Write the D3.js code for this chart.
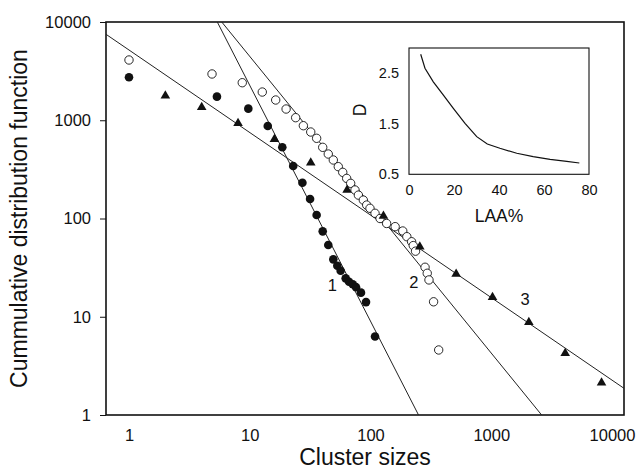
<!DOCTYPE html>
<html>
<head>
<meta charset="utf-8">
<script src="https://cdn.jsdelivr.net/npm/d3@7"></script>
<style>
  html, body { margin: 0; padding: 0; background: #fff; }
  svg { display: block; font-family: "Liberation Sans", Arial, sans-serif; }
</style>
</head>
<body>
<div id="chart"></div>
<script>
// ── Data ──
// series 1: filled circles
const size1 = [1, 5.35, 9.73, 14.1, 18.6, 22.9, 27.3, 31.6, 35.8, 40.2, 44.7, 49.2, 53.1, 56.6, 62.3, 66.4, 71.3, 75.9, 83.4, 91.8, 109];
const cdf1  = [2735, 1738, 1312, 874, 531, 342, 231, 158, 108.6, 74, 53.7, 38.4, 33.1, 29.4, 24.6, 22.7, 21.4, 20, 17.6, 14.1, 6.3];

// series 2: open circles
const size2 = [1, 4.87, 8.67, 12.7, 16.4, 20, 24, 27.8, 32, 35.8, 40.2, 44.7, 49.2, 54.1, 58.9, 63.5, 68.5, 74.4, 79.4, 87.2,
               93, 99, 109, 120, 136, 160, 185, 200, 219, 226, 236, 283, 295, 305, 333, 367];
const cdf2  = [4105, 2958, 2410, 1937, 1607, 1301, 1062, 880, 759, 655, 530, 453, 394, 337, 295, 256, 228, 195, 173, 154,
               137, 127, 113, 100, 89, 82.6, 74.6, 65.3, 58, 53, 46.5, 31.9, 27.7, 23.7, 14.2, 4.59];

// series 3: triangles
const size3 = [2, 4, 8, 16, 32, 64, 128, 256, 512, 1024, 2048, 4096, 8192];
const cdf3  = [1778, 1355, 931, 640, 370, 195, 106, 51.6, 27.2, 15.8, 8.78, 4.25, 2.13];

// power-law fits: cdf = 10^logA * size^(-D)
const fitNames = ["1", "2", "3"];
const fitLogA  = [5.755, 5.16, 3.715];
const fitD     = [2.40, 1.51, 0.84];
// where the fit numbers sit (data coords)
const fitLabelX = [48.3, 229, 1905];
const fitLabelY = [21, 22.4, 15];

// inset: fractal dimension D vs LAA%
const laa  = [5.2, 7.1, 10.8, 15.2, 19.7, 24.9, 30.1, 34.8, 40.4, 47.9, 55.2, 62.7, 70.1, 75.7];
const dimD = [2.876, 2.60, 2.33, 2.07, 1.807, 1.51, 1.245, 1.10, 1.015, 0.916, 0.849, 0.797, 0.757, 0.724];

const yTicks = [1, 10, 100, 1000, 10000];
const xTicks = [1, 10, 100, 1000, 10000];
const insetXTicks = [0, 20, 40, 60, 80];
const insetYTicks = [0.5, 1.5, 2.5];

// ── Layout ──
const W = 637, H = 475;
const M = { left: 106, right: 624, top: 22, bottom: 415 };
const INK = "#111";

const svg = d3.select("#chart").append("svg")
  .attr("width", W).attr("height", H);

const x = d3.scaleLog().domain([0.645, 12570]).range([M.left, M.right]);
const y = d3.scaleLog().domain([1, 10000]).range([M.bottom, M.top]);

svg.append("defs").append("clipPath").attr("id", "plotclip")
  .append("rect")
  .attr("x", M.left).attr("y", M.top)
  .attr("width", M.right - M.left).attr("height", M.bottom - M.top);

// ── Axes ──
const yAxis = svg.append("g")
  .attr("transform", `translate(${M.left},0)`)
  .call(d3.axisLeft(y).tickValues(yTicks).tickFormat(d3.format("d")).tickSize(6).tickPadding(9));
const xAxis = svg.append("g")
  .attr("transform", `translate(0,${M.bottom})`)
  .call(d3.axisBottom(x).tickValues(xTicks).tickFormat(d3.format("d")).tickSize(0).tickPadding(14));
for (const a of [xAxis, yAxis]) {
  a.select(".domain").remove();
  a.selectAll("text").attr("font-size", 16.5).attr("fill", INK)
    .attr("font-family", "'Liberation Sans', Arial, sans-serif");
  a.selectAll("line").attr("stroke", INK).attr("stroke-width", 1);
}

// frame
svg.append("rect")
  .attr("x", M.left).attr("y", M.top)
  .attr("width", M.right - M.left).attr("height", M.bottom - M.top)
  .attr("fill", "none").attr("stroke", INK).attr("stroke-width", 1.6);

// titles
svg.append("text")
  .attr("x", (M.left + M.right) / 2).attr("y", 465)
  .attr("text-anchor", "middle").attr("font-size", 23).attr("fill", INK)
  .text("Cluster sizes");
svg.append("text")
  .attr("transform", `translate(27,${(M.top + M.bottom) / 2}) rotate(-90)`)
  .attr("text-anchor", "middle").attr("font-size", 23).attr("fill", INK)
  .text("Cummulative distribution function");

// ── Fit lines ──
const plot = svg.append("g").attr("clip-path", "url(#plotclip)");
const xd = x.domain();
fitNames.forEach((name, i) => {
  const pts = xd.map(s => [x(s), y(Math.pow(10, fitLogA[i]) * Math.pow(s, -fitD[i]))]);
  plot.append("path")
    .attr("d", d3.line()(pts))
    .attr("fill", "none").attr("stroke", "#222").attr("stroke-width", 1);
  svg.append("text")
    .attr("x", x(fitLabelX[i])).attr("y", y(fitLabelY[i]) + 6)
    .attr("text-anchor", "middle").attr("font-size", 16.5).attr("fill", INK)
    .text(name);
});

// ── Markers ──
const g = svg.append("g");
g.selectAll("circle.s2").data(d3.range(size2.length)).join("circle")
  .attr("class", "s2")
  .attr("cx", i => x(size2[i])).attr("cy", i => y(cdf2[i]))
  .attr("r", 4.2).attr("fill", "#fff").attr("stroke", INK).attr("stroke-width", 0.9);
g.selectAll("circle.s1").data(d3.range(size1.length)).join("circle")
  .attr("class", "s1")
  .attr("cx", i => x(size1[i])).attr("cy", i => y(cdf1[i]))
  .attr("r", 4.3).attr("fill", INK);
const tri = d3.symbol().type(d3.symbolTriangle).size(40);
g.selectAll("path.s3").data(d3.range(size3.length)).join("path")
  .attr("class", "s3")
  .attr("transform", i => `translate(${x(size3[i])},${y(cdf3[i])})`)
  .attr("d", tri).attr("fill", INK);

// ── Inset ──
const I = { left: 409, right: 589, top: 48, bottom: 174.3 };
const ix = d3.scaleLinear().domain([0, 80]).range([I.left, I.right]);
const iy = d3.scaleLinear().domain([0.5, 3]).range([I.bottom, I.top]);

svg.append("rect")
  .attr("x", I.left).attr("y", I.top)
  .attr("width", I.right - I.left).attr("height", I.bottom - I.top)
  .attr("fill", "#fff").attr("stroke", INK).attr("stroke-width", 1.1);

const iyAxis = svg.append("g")
  .attr("transform", `translate(${I.left},0)`)
  .call(d3.axisLeft(iy).tickValues(insetYTicks).tickFormat(d3.format(".1f")).tickSize(0).tickPadding(10));
const ixAxis = svg.append("g")
  .attr("transform", `translate(0,${I.bottom})`)
  .call(d3.axisBottom(ix).tickValues(insetXTicks).tickFormat(d3.format("d")).tickSize(0).tickPadding(10));
for (const a of [ixAxis, iyAxis]) {
  a.select(".domain").remove();
  a.selectAll("text").attr("font-size", 14.5).attr("fill", INK)
    .attr("font-family", "'Liberation Sans', Arial, sans-serif");
}

svg.append("path")
  .datum(d3.range(laa.length))
  .attr("d", d3.line().x(i => ix(laa[i])).y(i => iy(dimD[i])))
  .attr("fill", "none").attr("stroke", INK).attr("stroke-width", 1.2);

svg.append("text")
  .attr("x", (I.left + I.right) / 2).attr("y", 221.5)
  .attr("text-anchor", "middle").attr("font-size", 17.5).attr("fill", INK)
  .text("LAA%");
svg.append("text")
  .attr("transform", `translate(365.5,110) rotate(-90)`)
  .attr("text-anchor", "middle").attr("font-size", 17.5).attr("fill", INK)
  .text("D");
</script>
</body>
</html>
